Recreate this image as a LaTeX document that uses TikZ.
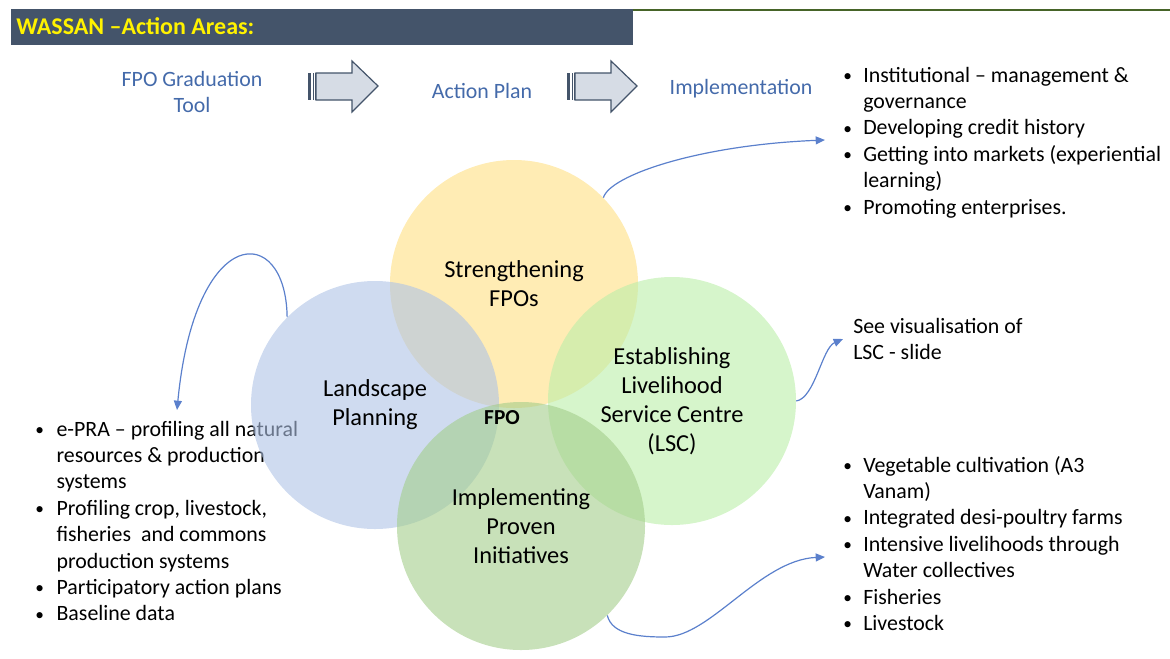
\documentclass[tikz,border=0pt]{standalone}
\usepackage{fontspec}
\setmainfont{Carlito}
\usetikzlibrary{arrows.meta}

\definecolor{barslate}{RGB}{68,84,106}
\definecolor{topgreen}{RGB}{70,100,40}
\definecolor{headblue}{RGB}{68,106,170}
\definecolor{arrowfill}{RGB}{214,220,229}
\definecolor{linkblue}{RGB}{91,128,204}
\definecolor{fpoyellow}{RGB}{255,223,130}
\definecolor{landblue}{RGB}{175,195,230}
\definecolor{lscgreen}{RGB}{187,238,168}
\definecolor{initgreen}{RGB}{163,205,138}

\newcommand{\bul}{\makebox[15pt][l]{\fontsize{13}{13}\selectfont\raisebox{0.5pt}{•}}}
\newcommand{\bulL}{\makebox[16pt][l]{\fontsize{13}{13}\selectfont\raisebox{0.5pt}{•}}}

\begin{document}
\begin{tikzpicture}[x=0.75pt,y=0.75pt,yscale=-1,xscale=1,
  petal/.style={circle,minimum size=186pt,inner sep=0pt,fill opacity=0.6,text opacity=1,align=center,font=\fontsize{18.3}{21.7}\selectfont},
  headtxt/.style={text=headblue,align=center,inner sep=0pt,font=\fontsize{16.4}{19.5}\selectfont},
  bultxt/.style={anchor=base west,inner sep=0pt,font=\fontsize{16.4}{19.8}\selectfont},
  link/.style={draw=linkblue,line width=0.9pt,-{Triangle[length=7pt,width=6pt]}},
  blockarr/.style={fill=arrowfill,draw=barslate,line width=0.9pt}]
\useasboundingbox (0,0) rectangle (1170,658);

%Title bar
\fill[barslate] (11,9) rectangle (633,45);
\draw[topgreen,line width=1.5pt] (633,10) -- (1170,10);
\node[anchor=base west,inner sep=0pt,text=yellow,font=\fontsize{18}{20}\selectfont\bfseries] (title) at (16,34) {WASSAN –Action Areas:};

% Text Node
\node[headtxt] (tool) at (192,92) {FPO Graduation\\Tool};
% Text Node
\node[headtxt] (plan) at (482,91) {Action Plan};
% Text Node
\node[headtxt] (impl) at (741,89) {Implementation};

%Block arrows
\foreach \xa in {308,567}{
  \draw[blockarr] (\xa+8,73) -- (\xa+44,73) -- (\xa+44,61) -- (\xa+70,86) -- (\xa+44,112) -- (\xa+44,100) -- (\xa+8,100) -- cycle;
  \fill[barslate] (\xa,73) rectangle (\xa+3,100);
  \draw[barslate,line width=0.6pt] (\xa+5,73) -- (\xa+5,100);
  \draw[barslate,line width=0.6pt] (\xa+7,73) -- (\xa+7,100);
}

% Left list (under the circles)
\node[bultxt] (landlist) at (35,436) {\begin{tabular}[t]{@{}l@{}l@{}}
\bulL & e-PRA – profiling all natural\\
 & resources \& production\\
 & systems\\
\bulL & Profiling crop, livestock,\\
 & fisheries\ \ and commons\\
 & production systems\\
\bulL & Participatory action plans\\
\bulL & Baseline data
\end{tabular}};

%Circles
\node[petal,fill=fpoyellow] (strength) at (514,284) {Strengthening\\FPOs};
\node[petal,fill=landblue] (landscape) at (375,405) {Landscape\\Planning};
\node[petal,fill=lscgreen] (lsc) at (672,401) {Establishing\\Livelihood\\Service Centre\\(LSC)};
\node[petal,fill=initgreen] (initiatives) at (521,526) {Implementing\\Proven\\Initiatives};
% Text Node
\node[inner sep=0pt,font=\fontsize{16}{18}\selectfont\bfseries] (fpo) at (502,418) {FPO};

% Top right list
\node[bultxt] (fpolist) at (843,82) {\begin{tabular}[t]{@{}l@{}l@{}}
\bul & Institutional – management \&\\
 & governance\\
\bul & Developing credit history\\
\bul & Getting into markets (experiential\\
 & learning)\\
\bul & Promoting enterprises.
\end{tabular}};

% Text Node
\node[bultxt] (lscnote) at (853,333) {\begin{tabular}[t]{@{}l@{}}
See visualisation of\\
LSC - slide
\end{tabular}};

% Bottom right list
\node[bultxt] (initlist) at (843,472) {\begin{tabular}[t]{@{}l@{}l@{}}
\bul & Vegetable cultivation (A3\\
 & Vanam)\\
\bul & Integrated desi-poultry farms\\
\bul & Intensive livelihoods through\\
 & Water collectives\\
\bul & Fisheries\\
\bul & Livestock
\end{tabular}};

%Connectors
\coordinate (tipA) at (825,140);
\coordinate (tipB) at (177,410);
\coordinate (tipC) at (843,339);
\coordinate (tipD) at (825,557);
\draw[link] (strength.44) .. controls (610,175) and (700,145) .. (tipA);
\draw[link] (landscape.135) .. controls (286,222) and (195,222) .. (tipB);
\draw[link] (lsc.east) .. controls (815,398) and (822,348) .. (tipC);
\draw[link] (initiatives.-46) .. controls (612,635) and (640,637) .. (665,637) .. controls (710,637) and (760,560) .. (tipD);

\end{tikzpicture}
\end{document}
